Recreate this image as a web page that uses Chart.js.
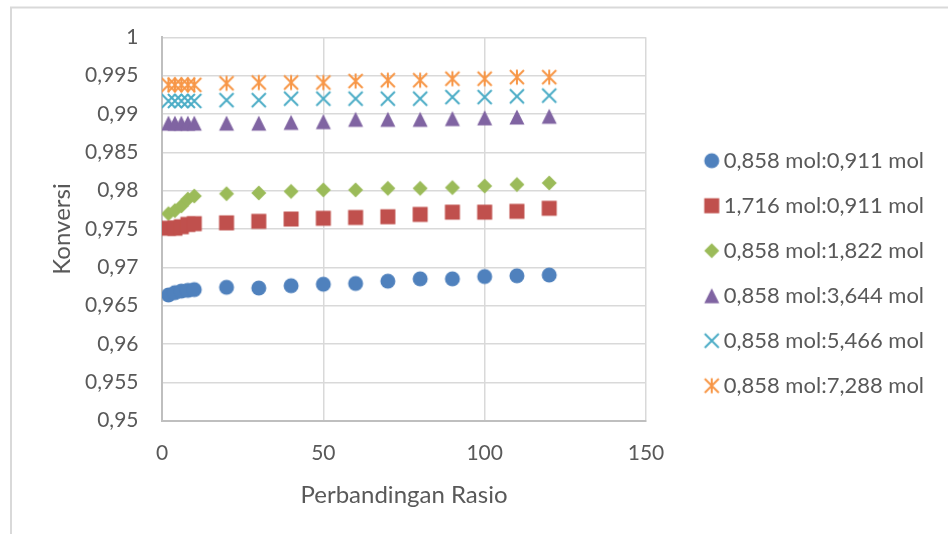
<!DOCTYPE html>
<html>
<head>
<meta charset="utf-8">
<script src="https://cdn.jsdelivr.net/npm/chart.js@4.4.1/dist/chart.umd.min.js"></script>
<style>
  html, body { margin: 0; padding: 0; background: #ffffff; }
  canvas { display: block; }
</style>
</head>
<body>
<canvas id="c" width="948" height="534"></canvas>
<script>
// Perbandingan rasio (x) shared by all series
const rasio = [2, 4, 6, 8, 10, 20, 30, 40, 50, 60, 70, 80, 90, 100, 110, 120];

// Konversi for each mole ratio
const konv_0858_0911 = [0.9664, 0.9667, 0.9669, 0.9670, 0.9671, 0.9674, 0.9673, 0.9676, 0.9678, 0.9679, 0.9682, 0.9685, 0.9685, 0.9688, 0.9689, 0.9690];
const konv_1716_0911 = [0.9751, 0.9751, 0.9753, 0.9756, 0.9757, 0.9758, 0.9760, 0.9763, 0.9764, 0.9765, 0.9766, 0.9769, 0.9772, 0.9772, 0.9773, 0.9777];
const konv_0858_1822 = [0.9770, 0.9774, 0.9780, 0.9789, 0.9793, 0.9796, 0.9797, 0.9799, 0.9801, 0.9801, 0.9803, 0.9803, 0.9804, 0.9806, 0.9808, 0.9810];
const konv_0858_3644 = [0.9888, 0.9888, 0.9888, 0.9888, 0.9888, 0.9888, 0.9888, 0.9889, 0.9890, 0.9893, 0.9893, 0.9893, 0.9894, 0.9895, 0.9896, 0.9897];
const konv_0858_5466 = [0.9917, 0.9917, 0.9917, 0.9917, 0.9917, 0.9918, 0.9918, 0.9920, 0.9920, 0.9920, 0.9920, 0.9920, 0.9922, 0.9922, 0.9923, 0.9924];
const konv_0858_7288 = [0.9938, 0.9938, 0.9938, 0.9938, 0.9938, 0.9940, 0.9941, 0.9941, 0.9941, 0.9943, 0.9944, 0.9944, 0.9946, 0.9946, 0.9948, 0.9948];

const seriesNames = [
  '0,858 mol:0,911 mol',
  '1,716 mol:0,911 mol',
  '0,858 mol:1,822 mol',
  '0,858 mol:3,644 mol',
  '0,858 mol:5,466 mol',
  '0,858 mol:7,288 mol'
];

// Axis tick definitions
const yMin = 0.95, yMax = 1, yStep = 0.005;
const xMin = 0, xMax = 150, xStep = 50;

const W = 948, H = 534;
const TEXT = '#595959';
const FONT = 'Lato, "Open Sans", sans-serif';

// Marker glyphs drawn once on small canvases and reused for points and legend
function marker(kind, color) {
  const s = 18, m = s / 2, h = 7.5;
  const c = document.createElement('canvas');
  c.width = s; c.height = s;
  const g = c.getContext('2d');
  g.fillStyle = color;
  g.strokeStyle = color;
  g.lineWidth = 2;
  g.beginPath();
  if (kind === 'circle') {
    g.arc(m, m, h, 0, Math.PI * 2);
    g.fill();
  } else if (kind === 'square') {
    g.fillRect(m - h, m - h, 2 * h, 2 * h);
  } else if (kind === 'diamond') {
    g.moveTo(m, m - h); g.lineTo(m + h, m); g.lineTo(m, m + h); g.lineTo(m - h, m);
    g.closePath(); g.fill();
  } else if (kind === 'triangle') {
    g.moveTo(m, m - h); g.lineTo(m + h, m + h); g.lineTo(m - h, m + h);
    g.closePath(); g.fill();
  } else {
    const d = h - 0.5;
    g.moveTo(m - d, m - d); g.lineTo(m + d, m + d);
    g.moveTo(m + d, m - d); g.lineTo(m - d, m + d);
    if (kind === 'asterisk') { g.moveTo(m, m - h); g.lineTo(m, m + h); }
    g.stroke();
  }
  return c;
}

const styles = [
  ['circle', '#4F81BD'],
  ['square', '#C0504D'],
  ['diamond', '#9BBB59'],
  ['triangle', '#8064A2'],
  ['cross', '#4BACC6'],
  ['asterisk', '#F79646']
];
const values = [konv_0858_0911, konv_1716_0911, konv_0858_1822, konv_0858_3644, konv_0858_5466, konv_0858_7288];

const datasets = values.map((arr, i) => ({
  label: seriesNames[i],
  data: arr.map((v, k) => ({ x: rasio[k], y: v })),
  pointStyle: marker(styles[i][0], styles[i][1]),
  pointRadius: 7,
  pointHoverRadius: 7,
  backgroundColor: styles[i][1],
  borderColor: styles[i][1],
  showLine: false
}));

// Plot-area geometry
const AREA_LEFT = 162, AREA_RIGHT = 646, AREA_TOP = 37.3, AREA_BOTTOM = 420.7;
const TICK_SIZE = 21, LEGEND_SIZE = 22, TITLE_SIZE = 24;

const frame = {
  id: 'frame',
  afterInit(chart) {
    const lg = chart.legend;
    const fit = lg.fit.bind(lg);
    lg.fit = function () { fit(); this.width = W - AREA_RIGHT; };
  },
  afterLayout(chart) {
    const lg = chart.legend;
    lg.left = 687.7; lg.right = W;
    lg.top = 126.7; lg.bottom = H;
    lg.width = lg.right - lg.left; lg.height = lg.bottom - lg.top;
  },
  beforeDraw(chart) {
    const ctx = chart.ctx;
    ctx.save();
    ctx.fillStyle = '#ffffff';
    ctx.fillRect(0, 0, W, H);
    ctx.strokeStyle = '#d9d9d9';
    ctx.lineWidth = 2;
    ctx.beginPath();
    ctx.moveTo(11, H + 5);
    ctx.lineTo(11, 7.5);
    ctx.lineTo(W + 5, 7.5);
    ctx.stroke();
    ctx.restore();
  }
};

Chart.defaults.font.family = FONT;
Chart.defaults.font.size = TICK_SIZE;
Chart.defaults.color = TEXT;

new Chart(document.getElementById('c'), {
  type: 'scatter',
  data: { datasets },
  plugins: [frame],
  options: {
    responsive: false,
    animation: false,
    events: [],
    layout: { autoPadding: false, padding: { top: AREA_TOP, left: 0, right: 0, bottom: 0 } },
    plugins: {
      tooltip: { enabled: false },
      legend: {
        position: 'right',
        align: 'start',
        labels: {
          usePointStyle: true,
          boxWidth: 2,
          padding: 23,
          color: TEXT,
          font: { family: FONT, size: LEGEND_SIZE }
        }
      }
    },
    scales: {
      x: {
        type: 'linear',
        min: xMin, max: xMax,
        afterFit: s => { s.height = H - AREA_BOTTOM; },
        ticks: { stepSize: xStep, padding: 19.7, color: TEXT, font: { size: TICK_SIZE } },
        grid: { color: '#d9d9d9', lineWidth: 1.5, drawTicks: false },
        border: { color: '#bfbfbf', width: 2 },
        title: { display: true, text: 'Perbandingan Rasio', color: TEXT, font: { size: TITLE_SIZE }, padding: { top: 0, bottom: 24.8 } }
      },
      y: {
        type: 'linear',
        min: yMin, max: yMax,
        afterFit: s => { s.width = AREA_LEFT; },
        ticks: {
          stepSize: yStep,
          padding: 23.5,
          color: TEXT,
          font: { size: TICK_SIZE },
          callback: v => String(Number(Number(v).toFixed(3))).replace('.', ',')
        },
        grid: { color: '#d9d9d9', lineWidth: 1.5, drawTicks: false },
        border: { color: '#bfbfbf', width: 2 },
        title: { display: true, text: 'Konversi', color: TEXT, font: { size: TITLE_SIZE }, padding: { top: 48.1, bottom: 0 } }
      }
    }
  }
});
</script>
</body>
</html>
